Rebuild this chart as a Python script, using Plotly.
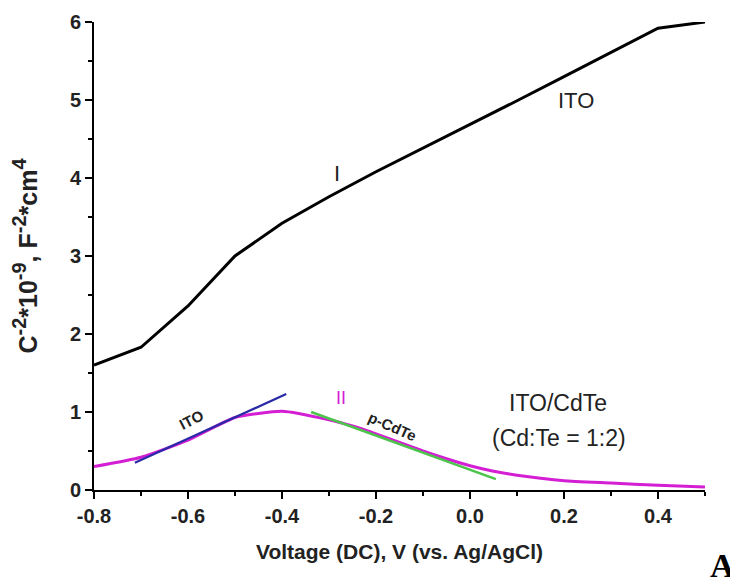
import plotly.graph_objects as go

# Curve I (ITO)
x_I = [-0.8, -0.7, -0.6, -0.5, -0.4, -0.3, -0.2, -0.1, 0.0, 0.1, 0.2, 0.3, 0.4, 0.5]
y_I = [1.60, 1.83, 2.36, 3.00, 3.42, 3.76, 4.08, 4.38, 4.68, 4.99, 5.30, 5.61, 5.92, 6.00]

# Curve II (ITO/CdTe)
x_II = [-0.8, -0.7, -0.6, -0.5, -0.4, -0.3, -0.25, -0.2, -0.15, -0.1, -0.05, 0.0, 0.05, 0.1, 0.15, 0.2, 0.3, 0.4, 0.5]
y_II = [0.30, 0.42, 0.64, 0.93, 1.01, 0.90, 0.82, 0.72, 0.61, 0.50, 0.40, 0.31, 0.24, 0.19, 0.15, 0.12, 0.09, 0.06, 0.04]

# Linear fits
x_fit_ito = [-0.713, -0.391]
y_fit_ito = [0.35, 1.23]
x_fit_cdte = [-0.338, 0.055]
y_fit_cdte = [1.00, 0.14]

x_ticks = [-0.8, -0.6, -0.4, -0.2, 0.0, 0.2, 0.4]
x_tick_text = ["-0.8", "-0.6", "-0.4", "-0.2", "0.0", "0.2", "0.4"]
y_ticks = [0, 1, 2, 3, 4, 5, 6]
y_tick_text = ["0", "1", "2", "3", "4", "5", "6"]

fig = go.Figure()
fig.add_trace(go.Scatter(x=x_I, y=y_I, mode="lines",
                         line=dict(color="black", width=3), showlegend=False))
fig.add_trace(go.Scatter(x=x_II, y=y_II, mode="lines", line_shape="spline",
                         line=dict(color="#d41ed4", width=3, smoothing=0.5), showlegend=False))
fig.add_trace(go.Scatter(x=x_fit_ito, y=y_fit_ito, mode="lines",
                         line=dict(color="#2a2aa8", width=2.2), showlegend=False))
fig.add_trace(go.Scatter(x=x_fit_cdte, y=y_fit_cdte, mode="lines",
                         line=dict(color="#4cc44c", width=2.5), showlegend=False))

font = "Liberation Sans, Arial, sans-serif"
ann = [
    dict(x=-0.283, y=4.06, text="I", font=dict(size=22, color="#222")),
    dict(x=0.225, y=4.99, text="ITO", font=dict(size=22, color="#222")),
    dict(x=-0.274, y=1.18, text="II", font=dict(size=18, color="#d41ed4")),
    dict(x=-0.592, y=0.90, text="<b>ITO</b>", textangle=-27, font=dict(size=15, color="#222")),
    dict(x=-0.165, y=0.81, text="<b>p-CdTe</b>", textangle=24, font=dict(size=15, color="#222")),
    dict(x=0.187, y=1.12, text="ITO/CdTe", font=dict(size=23, color="#222")),
    dict(x=0.189, y=0.67, text="(Cd:Te = 1:2)", font=dict(size=23, color="#222")),
]
annotations = [dict(a, xref="x", yref="y", showarrow=False, font=dict(family=font, **a["font"])) for a in ann]
annotations.append(dict(x=1.028, y=-0.162, xref="paper", yref="paper", xanchor="center", yanchor="middle",
                        text="<b>A</b>", showarrow=False,
                        font=dict(family="Liberation Serif, Times New Roman, serif", size=34, color="black")))

sup = lambda s: '<sup><span style="font-size:20px">%s</span></sup>' % s
ytitle = "<b>C" + sup("-2") + "*10" + sup("-9") + ", F" + sup("-2") + "*cm" + sup("4") + "</b>"

fig.update_layout(
    width=738, height=587,
    margin=dict(l=86, r=41, t=14, b=105),
    plot_bgcolor="white", paper_bgcolor="white",
    font=dict(family=font, color="#222"),
    annotations=annotations,
    xaxis=dict(range=[-0.8, 0.5], tickvals=x_ticks, ticktext=["<b>%s</b>" % t for t in x_tick_text],
               automargin=False,
               showline=True, linecolor="black", linewidth=2, showgrid=False, zeroline=False,
               ticks="outside", ticklen=7, tickwidth=2, tickcolor="black",
               minor=dict(dtick=0.1, ticks="outside", ticklen=4, tickwidth=2, tickcolor="black"),
               tickfont=dict(size=20, family=font, color="#222"),
               title=dict(text="<b>Voltage (DC), V (vs. Ag/AgCl)</b>", font=dict(size=21, family=font, color="#222"),
                          standoff=18)),
    yaxis=dict(range=[0, 6], tickvals=y_ticks, ticktext=["<b>%s</b>" % t for t in y_tick_text],
               automargin=False,
               showline=True, linecolor="black", linewidth=2, showgrid=False, zeroline=False,
               ticks="outside", ticklen=7, tickwidth=2, tickcolor="black",
               minor=dict(dtick=0.5, ticks="outside", ticklen=4, tickwidth=2, tickcolor="black"),
               tickfont=dict(size=20, family=font, color="#222"),
               title=dict(text=ytitle, font=dict(size=25, family=font, color="#222"), standoff=26)),
)
fig.write_html("out.html")
